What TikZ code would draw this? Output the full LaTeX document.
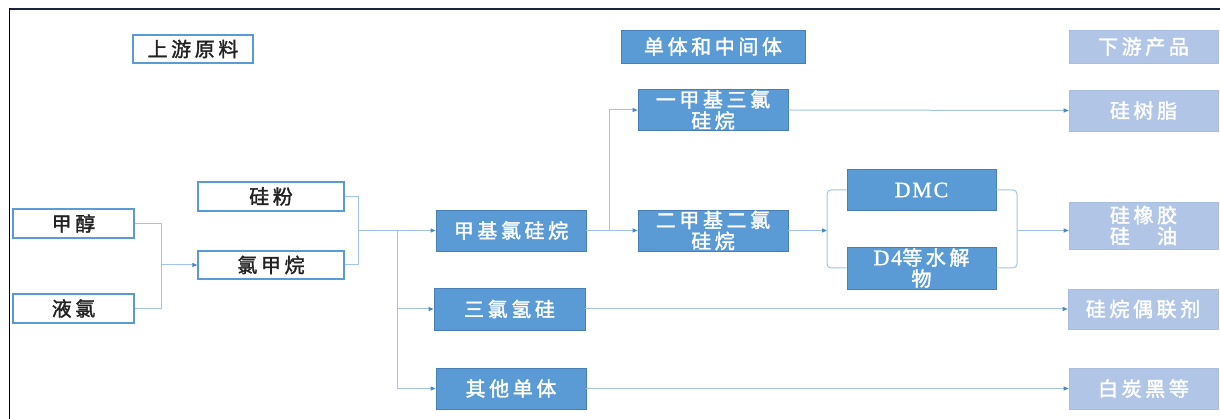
\documentclass[tikz,border=0pt]{standalone}
\usepackage{fontspec}
\setmainfont{Liberation Serif}
\newfontfamily\cjk[LetterSpace=18,FakeBold=1.6]{Noto Sans CJK SC}
\newfontfamily\lat[LetterSpace=8,FakeBold=1]{Liberation Serif}
\usetikzlibrary{arrows.meta}
\definecolor{bluefill}{HTML}{5B9BD5}
\definecolor{blueedge}{HTML}{4A7FB5}
\definecolor{lightfill}{HTML}{B1C6E6}
\definecolor{lightedge}{HTML}{A9BEDF}
\definecolor{lineblue}{HTML}{A3C4E6}
\definecolor{tipblue}{HTML}{4F87C4}
\definecolor{navy}{HTML}{1B2340}
\definecolor{darktext}{HTML}{222222}
\tikzset{
  base/.style={rectangle, inner sep=0pt, align=center, font=\cjk\fontsize{20}{21}\selectfont},
  whitebox/.style={base, draw=bluefill, line width=1.2pt, fill=white, text=darktext},
  bluebox/.style={base, draw=blueedge, line width=0.8pt, fill=bluefill, text=white},
  lightbox/.style={base, draw=lightedge, line width=0.6pt, fill=lightfill, text=white},
  conn/.style={draw=lineblue, line width=1pt},
  arr/.style={conn, -{Triangle[length=5pt,width=4pt,color=tipblue]}},
}
\newcommand{\latin}[1]{{\lat\fontsize{22}{21}\selectfont #1}}
\begin{document}
\begin{tikzpicture}[x=1pt,y=-1pt]
\useasboundingbox (0,0) rectangle (1220,419);
\fill[white] (0,0) rectangle (1220,419);
% frame
\draw[navy, line width=2.8pt] (9,9) -- (1220,9);
\draw[black, line width=1.5pt] (9.5,8) -- (9.5,419);
% headers
\node[whitebox, minimum width=120, minimum height=28] (up) at (193,49) {上游原料};
\node[bluebox, minimum width=184, minimum height=33] (mid) at (713,46.5) {单体和中间体};
\node[lightbox, minimum width=149, minimum height=33] (down) at (1143.5,46.5) {下游产品};
% raw materials
\node[whitebox, minimum width=121, minimum height=29] (meoh) at (73.5,223.5) {甲醇};
\node[whitebox, minimum width=121, minimum height=29] (cl) at (73.5,308.5) {液氯};
\node[whitebox, minimum width=146, minimum height=29] (si) at (271,196.5) {硅粉};
\node[whitebox, minimum width=146, minimum height=28] (cm) at (271,265) {氯甲烷};
% monomers
\node[bluebox, minimum width=150, minimum height=41] (mcs) at (511,230.5) {甲基氯硅烷};
\node[bluebox, minimum width=151, minimum height=42] (tcs) at (509.5,309) {三氯氢硅};
\node[bluebox, minimum width=150, minimum height=41] (oth) at (511,388.5) {其他单体};
\node[bluebox, minimum width=150, minimum height=41] (m1) at (713,110) {一甲基三氯\\硅烷};
\node[bluebox, minimum width=150, minimum height=41] (m2) at (713,230.5) {二甲基二氯\\硅烷};
\node[bluebox, minimum width=149, minimum height=41] (dmc) at (921.5,190) {\latin{DMC}};
\node[bluebox, minimum width=149, minimum height=42] (d4) at (921.5,268) {\latin{D4}等水解\\物};
% downstream
\node[lightbox, minimum width=149, minimum height=41] (res) at (1143.5,110.5) {硅树脂};
\node[lightbox, minimum width=149, minimum height=47] (rub) at (1143.5,225.5) {硅橡胶\\硅　油};
\node[lightbox, minimum width=150, minimum height=40] (cpl) at (1143,309) {硅烷偶联剂};
\node[lightbox, minimum width=149, minimum height=41] (wht) at (1143.5,388.5) {白炭黑等};
% junctions
\coordinate (j1) at (161,265);
\coordinate (j2) at (358,230.5);
\coordinate (j3) at (397,230.5);
\coordinate (j4) at (609,230.5);
\coordinate (j5) at (827,230.5);
\coordinate (j6) at (1017,230.5);
% connectors
\draw[conn] (meoh.east) -| (j1);
\draw[conn] (cl.east) -| (j1);
\draw[arr] (j1) -- (cm.west);
\draw[conn] (si.east) -| (j2);
\draw[conn] (cm.east) -| (j2);
\draw[conn] (j2) -- (j3);
\draw[arr] (j3) -- (mcs.west);
\draw[arr] (j3) |- (tcs.west);
\draw[arr] (j3) |- (oth.west);
\draw[conn] (mcs.east) -- (j4);
\draw[arr] (j4) |- (m1.west);
\draw[arr] (j4) -- (m2.west);
\draw[arr] (m1.east) -- (res.west);
\draw[arr] (m2.east) -- (j5);
\draw[conn, rounded corners=4pt] (dmc.west) -| (j5) |- (d4.west);
\draw[conn, rounded corners=4pt] (dmc.east) -| (j6) |- (d4.east);
\draw[arr] (j6) -- (rub.west |- j6);
\draw[arr] (tcs.east) -- (cpl.west);
\draw[arr] (oth.east) -- (wht.west);
\end{tikzpicture}
\end{document}
